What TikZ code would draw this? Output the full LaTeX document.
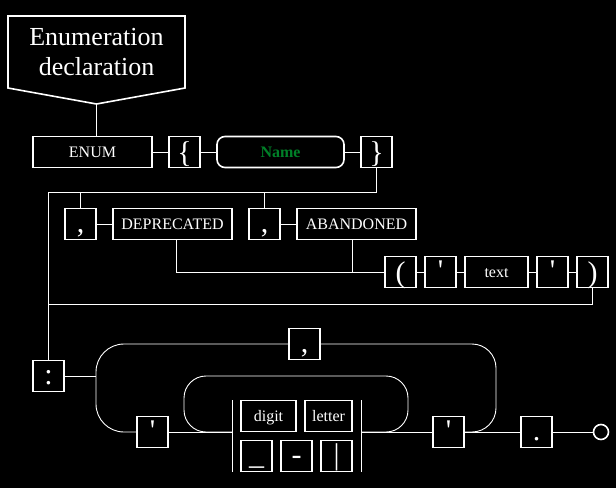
\documentclass[tikz,border=0pt]{standalone}
\usepackage{fontspec}
\setmainfont{Liberation Serif}[Ligatures=TeXOff]
\definecolor{namegreen}{RGB}{0,128,40}
\tikzset{
  boxline/.style={draw=white, line width=1.6pt},
  box/.style={boxline, minimum height=31pt, inner sep=0pt, text=white,
    font=\fontsize{16}{16}\selectfont, text height=11pt, text depth=0pt},
  sq/.style={box, minimum width=31pt, font=\fontsize{30}{30}\selectfont, text height=17pt},
  br/.style={box, minimum width=31pt, font=\fontsize{30}{30}\selectfont, text height=20pt},
  wire/.style={draw=white, line width=0.9pt}
}
\begin{document}
\begin{tikzpicture}[x=1pt,y=-1pt]
\fill[black] (0,0) rectangle (616,488);
\useasboundingbox (0,0) rectangle (616,488);
% title
\draw[boxline] (8,16) -- (185,16) -- (185,88) -- (96.5,104) -- (8,88) -- cycle;
\coordinate (tip) at (96.5,104);
\node[font=\fontsize{26}{30}\selectfont, text=white, align=center] (title) at (96.5,52) {Enumeration\\declaration};
% top row
\node[box, minimum width=119pt] (enum) at (92.5,152) {ENUM};
\node[br] (lb) at (184.5,152) {\{};
\node[box, minimum width=127pt, rounded corners=8pt, text=namegreen,
  font=\fontsize{16}{16}\selectfont\bfseries] (name) at (280.5,152) {Name};
\node[br] (rb) at (376.5,152) {\}};
% second row
\node[sq] (c1) at (80.5,224) {,};
\node[box, minimum width=119pt] (dep) at (172.5,224) {DEPRECATED};
\node[sq] (c2) at (264.5,224) {,};
\node[box, minimum width=119pt] (abn) at (356.5,224) {ABANDONED};
% third row
\node[br] (lp) at (400.5,272) {(};
\node[sq] (q1) at (440.5,272) {'};
\node[box, minimum width=63pt] (txt) at (496.5,272) {text};
\node[sq] (q2) at (552.5,272) {'};
\node[br] (rp) at (592.5,272) {)};
% bottom
\node[sq] (colon) at (48.5,376) {:};
\node[sq] (c3) at (304.5,344) {,};
\node[sq] (qa) at (152.5,432) {'};
\node[box, minimum width=55pt] (digit) at (268.5,416) {digit};
\node[box, minimum width=47pt] (letter) at (328.5,416) {letter};
\node[sq] (us) at (256.5,456) {\_};
\node[sq] (minus) at (296.5,456) {-};
\node[sq] (vbar) at (336.5,456) {|};
\node[sq] (qb) at (448.5,432) {'};
\node[sq] (dot) at (536.5,432) {.};
\node[circle, boxline, minimum size=15pt, inner sep=0pt] (end) at (601,432) {};
% wires top
\draw[wire] (tip) -- (tip |- enum.north);
\draw[wire] (enum.east) -- (lb.west);
\draw[wire] (lb.east) -- (name.west);
\draw[wire] (name.east) -- (rb.west);
\coordinate (j1) at (48.5,192);
\coordinate (j2) at (48.5,304);
\draw[wire] (rb.south) -- (rb.south |- j1) -- (j1) -- (colon.north);
\draw[wire] (c1.north |- j1) -- (c1.north);
\draw[wire] (c2.north |- j1) -- (c2.north);
\draw[wire] (c1.east) -- (dep.west);
\draw[wire] (c2.east) -- (abn.west);
\draw[wire] ([xshift=4pt]dep.south) |- (lp.west);
\draw[wire] ([xshift=-4pt]abn.south) -- ([xshift=-4pt]abn.south |- lp.west);
\draw[wire] (lp.east) -- (q1.west);
\draw[wire] (q1.east) -- (txt.west);
\draw[wire] (txt.east) -- (q2.west);
\draw[wire] (q2.east) -- (rp.west);
\draw[wire] (rp.south) |- (j2);
% wires bottom
\coordinate (ol) at (96,376);
\draw[wire] (colon.east) -- (ol);
\draw[wire, rounded corners=28pt] (qa.west) -- (96,432) -- (96,344) -- (c3.west);
\draw[wire, rounded corners=24pt] (c3.east) -- (496,344) -- (496,432) -- (qb.east);
\coordinate (bm) at (232,432);
\coordinate (bn) at (361,432);
\draw[wire] (232,400) -- (232,472);
\draw[wire] (361,400) -- (361,472);
\draw[wire] (qa.east) -- (bm);
\draw[wire, rounded corners=22pt] (bm) -- (184,432) -- (184,376) -- (408,376) -- (408,432) -- (bn);
\draw[wire] (bn) -- (qb.west);
\draw[wire] (qb.east) -- (dot.west);
\draw[wire] (dot.east) -- (end.west);
\end{tikzpicture}
\end{document}
